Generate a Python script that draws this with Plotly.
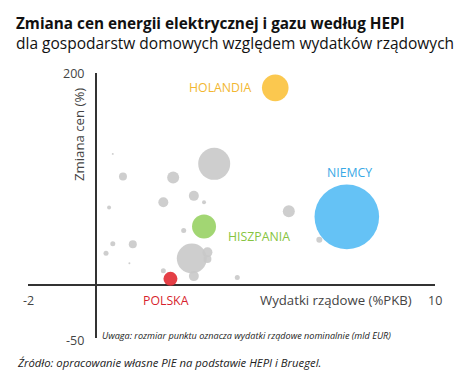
import plotly.graph_objects as go

# Data
# gray countries: x = government spending (% GDP), y = price change (%), s = nominal spending (bn EUR)
other_x = [3.49, 0.80, 2.28, 0.50, 2.89, 3.19, 1.99, 0.39, 2.59, 0.50, 1.09, 0.30, 0.99,
           2.83, 3.29, 3.29, 1.99, 2.89, 4.17, 5.69, 6.59]
other_y = [114.3, 102.3, 101.4, 123.7, 84.1, 78.1, 78.1, 73.1, 51.4, 38.9, 38.5, 30.0, 20.6,
           25.0, 30.8, 24.6, 13.4, 8.4, 7.1, 69.6, 42.6]
other_s = [64.8, 4.05, 9.1, 0.25, 6.3, 1.0, 6.3, 1.0, 1.58, 1.58, 4.05, 1.58, 0.25,
           57.0, 6.3, 4.05, 1.58, 6.3, 1.58, 9.1, 2.28]

hl_names = ["HOLANDIA", "NIEMCY", "HISZPANIA", "POLSKA"]
hl_x = [5.29, 7.40, 3.19, 2.20]
hl_y = [186.0, 64.3, 55.2, 5.8]
hl_s = [44.8, 264.0, 36.4, 12.4]
hl_colors = ["#fbc546", "#5dbff4", "#9dd46c", "#e3353c"]
hl_text_colors = ["#f2b731", "#38a9e6", "#86c440", "#d71f2e"]

x_ticks = [-2, 10]
y_ticks = [200, -50]

title = "Zmiana cen energii elektrycznej i gazu według HEPI"
subtitle = "dla gospodarstw domowych względem wydatków rządowych"
x_title = "Wydatki rządowe (%PKB)"
y_title = "Zmiana cen (%)"
note = "Uwaga: rozmiar punktu oznacza wydatki rządowe nominalnie (mld EUR)"
source = "Źródło: opracowanie własne PIE na podstawie HEPI i Bruegel."

FONT = "Open Sans"
max_d = 64.6
sizeref = 2 * max(hl_s) / max_d ** 2

fig = go.Figure()
fig.add_trace(go.Scatter(
    x=other_x, y=other_y, mode="markers",
    marker=dict(size=other_s, sizemode="area", sizeref=sizeref, color="#c9c9c9",
                opacity=0.9, line=dict(width=0)),
    cliponaxis=False, hoverinfo="skip", showlegend=False))
fig.add_trace(go.Scatter(
    x=hl_x, y=hl_y, mode="markers",
    marker=dict(size=hl_s, sizemode="area", sizeref=sizeref, color=hl_colors,
                opacity=0.95, line=dict(width=0)),
    cliponaxis=False, hoverinfo="skip", showlegend=False))

# label offsets in px
offsets = [(-55, 0), (3, 44), (55, -10), (-4, -22)]
for name, x, y, c, (dx, dy) in zip(hl_names, hl_x, hl_y, hl_text_colors, offsets):
    fig.add_annotation(x=x, y=y, text=name, showarrow=False, xshift=dx, yshift=dy,
                       xanchor="center", yanchor="middle",
                       font=dict(family=FONT, size=12.3, color=c))

L, R, T, B = 28, 435, 73, 338
W, H = 474, 388

def px(xp, yp):
    return (xp - L) / (R - L), (B - yp) / (B - T)

# tick labels
for v in x_ticks:
    fig.add_annotation(x=v, y=0, xref="x", yref="y", text=str(v), showarrow=False,
                       xanchor="center", yanchor="middle",
                       yshift=-15, font=dict(family=FONT, size=12.5, color="#444"))
for v in y_ticks:
    fig.add_annotation(x=0, y=v, xref="x", yref="y", text=str(v), showarrow=False,
                       xanchor="right", yanchor="middle", xshift=-10, yshift=(0 if v > 0 else -2),
                       font=dict(family=FONT, size=12.5, color="#444"))

def paper_text(xp, yp, text, size, color, xanchor="left", angle=0):
    ax, ay = px(xp, yp)
    fig.add_annotation(x=ax, y=ay, xref="paper", yref="paper", text=text, showarrow=False,
                       xanchor=xanchor, yanchor="middle", textangle=angle,
                       font=dict(family=FONT, size=size, color=color))

paper_text(336, 300, x_title, 13.2, "#444", xanchor="center")
paper_text(79, 135, y_title, 13.2, "#444", xanchor="center", angle=-90)
paper_text(100, 335, "<i>" + note + "</i>", 9.1, "#222")
paper_text(15, 362, "<i>" + source + "</i>", 11.3, "#222")
paper_text(14, 23, "<b>" + title + "</b>", 15.3, "#111")
paper_text(14, 43, subtitle, 15.5, "#111")

fig.update_xaxes(range=[-2, 10], showgrid=False, showticklabels=False, ticks="",
                 zeroline=True, zerolinecolor="#333", zerolinewidth=1.5, showline=False)
fig.update_yaxes(range=[-50, 200], showgrid=False, showticklabels=False, ticks="",
                 zeroline=True, zerolinecolor="#333", zerolinewidth=1.5, showline=False)
fig.update_layout(width=W, height=H, margin=dict(l=L, r=W - R, t=T, b=H - B),
                  paper_bgcolor="white", plot_bgcolor="white",
                  font=dict(family=FONT))
fig.write_html("out.html", config={"displayModeBar": False},
               post_script="document.body.style.margin='0';")
